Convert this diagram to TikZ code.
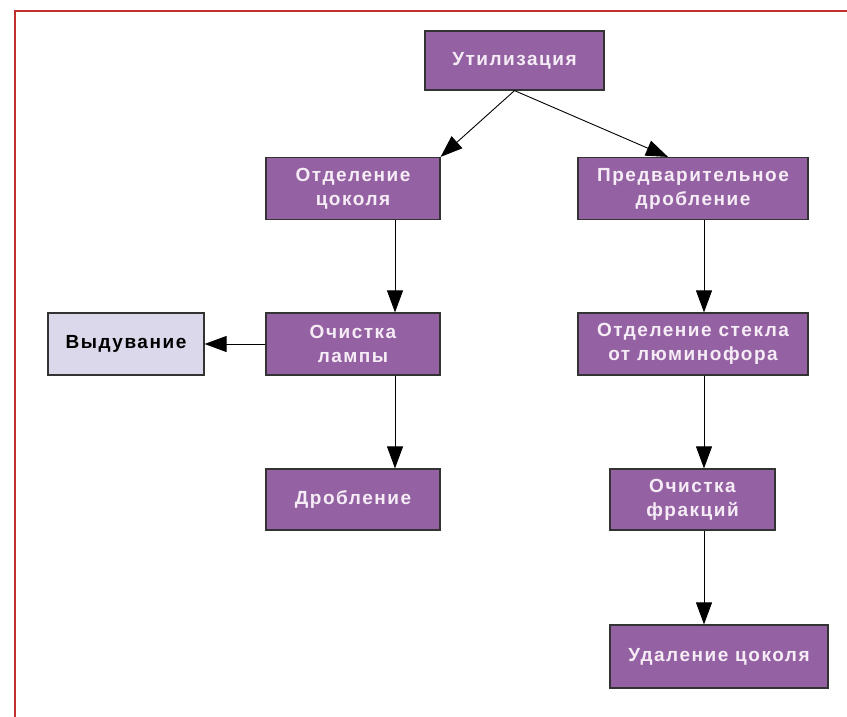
\documentclass[tikz,border=0pt]{standalone}
\usepackage{fontspec}
\setmainfont{Liberation Sans}
\usetikzlibrary{arrows.meta}
\definecolor{boxpurple}{HTML}{9462A3}
\definecolor{boxlight}{HTML}{DCD8EC}
\definecolor{boxtext}{HTML}{F6ECF6}
\definecolor{frame}{HTML}{C0302E}
\tikzset{
  pbox/.style={draw=black!80, line width=1.2pt, fill=boxpurple, text=boxtext,
    font=\bfseries\fontsize{19}{24}\selectfont\addfontfeature{LetterSpace=8},
    align=center, inner sep=0pt, minimum height=62pt},
  lbox/.style={pbox, fill=boxlight, text=black},
  conn/.style={line width=0.9pt, -{Triangle[length=22pt,width=16pt]}},
}
\begin{document}
\begin{tikzpicture}[x=1pt,y=-1pt]
\useasboundingbox (0,0) rectangle (847,717);
\fill[white] (0,0) rectangle (847,717);
\draw[frame, line width=2pt] (15,717) -- (15,11) -- (847,11);
\node[pbox, minimum width=179pt, minimum height=59pt] (util) at (514.5,60.5) {Утилизация};
\node[pbox, minimum width=174pt] (otc) at (353,188.5) {Отделение\\цоколя};
\node[pbox, minimum width=230pt] (pred) at (693,188.5) {Предварительное\\дробление};
\node[lbox, minimum width=156pt] (vyd) at (126,344) {Выдувание};
\node[pbox, minimum width=174pt] (ochl) at (353,344) {Очистка\\лампы};
\node[pbox, minimum width=230pt] (otst) at (693,344) {Отделение стекла\\от люминофора};
\node[pbox, minimum width=174pt, minimum height=61pt] (drob) at (353,499.5) {Дробление};
\node[pbox, minimum width=165pt, minimum height=61pt] (ochf) at (692.5,499.5) {Очистка\\фракций};
\node[pbox, minimum width=218pt, minimum height=63pt] (udal) at (719,656.5) {Удаление цоколя};
\coordinate (ub) at (util.south);
\draw[conn] (ub) -- (otc.north east);
\draw[conn] (ub) -- ([xshift=-25pt]pred.north);
\draw[conn] ([xshift=42pt]otc.south) -- ([xshift=42pt]ochl.north);
\draw[conn] ([xshift=42pt]ochl.south) -- ([xshift=42pt]drob.north);
\draw[conn] (ochl.west) -- (vyd.east);
\draw[conn] ([xshift=11pt]pred.south) -- ([xshift=11pt]otst.north);
\draw[conn] ([xshift=11pt]otst.south) -- ([xshift=11.5pt]ochf.north);
\draw[conn] ([xshift=11.5pt]ochf.south) -- ([xshift=-15pt]udal.north);
\end{tikzpicture}
\end{document}
